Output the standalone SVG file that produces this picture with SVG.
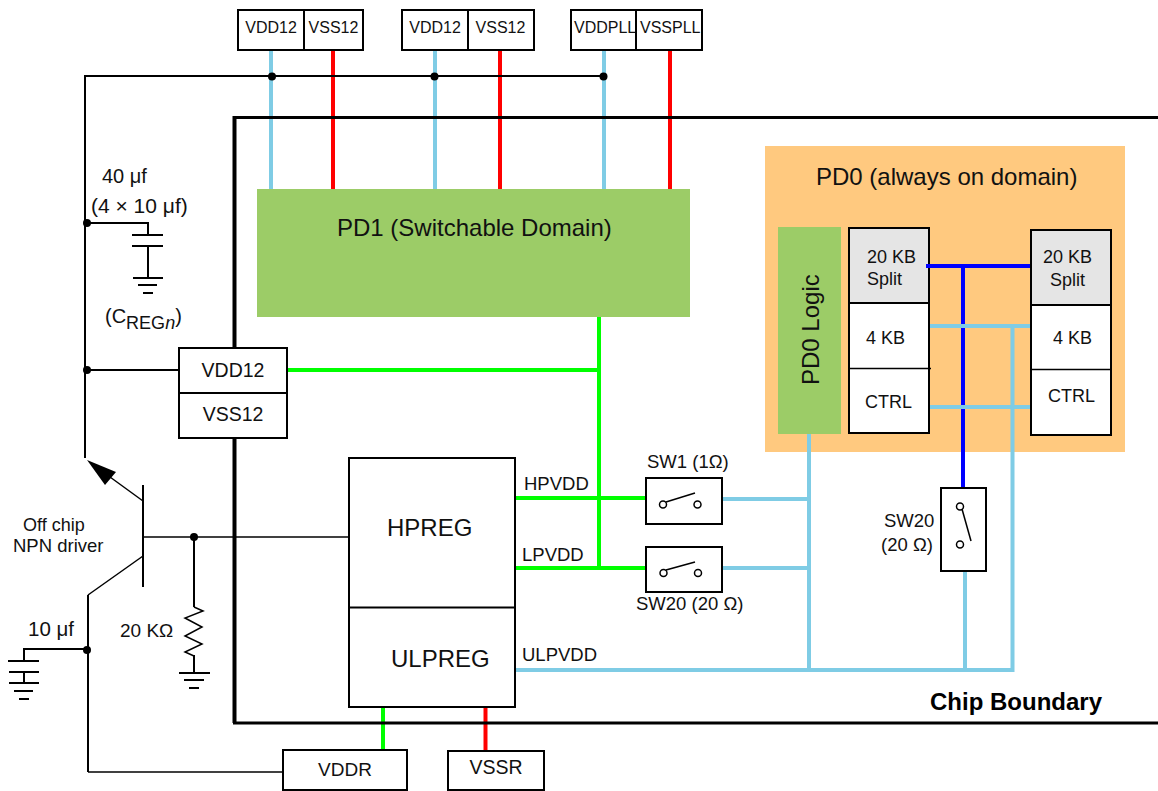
<svg xmlns="http://www.w3.org/2000/svg" width="1158" height="791" viewBox="0 0 1158 791">
<style>
text{font-family:"Liberation Sans",Arial,sans-serif;fill:#111;font-size:18.500px}
.s{font-size:16px}
.m{font-size:18px}
.l{font-size:24px}
.box{fill:#fff;stroke:#000;stroke-width:2}
.grey{fill:#e5e5e5;stroke:none}
.k{fill:none;stroke:#000;stroke-width:2}
.t{fill:none;stroke:#000;stroke-width:1.500}
.b{fill:none;stroke:#000;stroke-width:4}
.h{fill:none;stroke:#000;stroke-width:3}
.lb{fill:none;stroke:#7fcce5;stroke-width:4}
.r{fill:none;stroke:#f00;stroke-width:4}
.g{fill:none;stroke:#0f0;stroke-width:4}
.u{fill:none;stroke:#00f;stroke-width:4}
.d{fill:#000}
.c{fill:#fff;stroke:#000;stroke-width:1.500}
</style>
<g id="pd1"><rect x="257" y="189" width="433" height="128" fill="#9ccc67"/><text x="337" y="236" class="l">PD1 (Switchable Domain)</text></g>
<g id="pd0"><rect x="765" y="146" width="360" height="306" fill="#ffc97f"/><text x="816" y="185" class="l">PD0 (always on domain)</text></g>
<g id="vdd12-a"><rect class="box" x="238" y="10" width="66" height="40"/><text x="271" y="33" class="s" text-anchor="middle">VDD12</text></g>
<g id="vss12-a"><rect class="box" x="304" y="10" width="59" height="40"/><text x="333.500" y="33" class="s" text-anchor="middle">VSS12</text></g>
<g id="vdd12-b"><rect class="box" x="402" y="10" width="66" height="40"/><text x="435" y="33" class="s" text-anchor="middle">VDD12</text></g>
<g id="vss12-b"><rect class="box" x="468" y="10" width="66" height="40"/><text x="500.500" y="33" class="s" text-anchor="middle">VSS12</text></g>
<g id="vddpll"><rect class="box" x="571" y="10" width="65" height="40"/><text x="574" y="33" class="s">VDDPLL</text></g>
<g id="vsspll"><rect class="box" x="636" y="10" width="66" height="40"/><text x="640" y="33" class="s">VSSPLL</text></g>
<g id="pd0-logic"><rect x="778" y="227" width="63" height="207" fill="#9ccc67"/><text transform="translate(819 385) rotate(-90)" style="font-size:24px">PD0 Logic</text></g>
<g id="mem-left">
<rect class="box" x="849" y="228" width="80" height="205"/><rect class="grey" x="850" y="229" width="78" height="74"/>
<path class="k" d="M849 303H929"/><path class="t" d="M849 368.500H931"/>
<text x="867" y="263" class="m">20 KB</text><text x="867" y="285" class="m">Split</text><text x="866" y="344" class="m">4 KB</text><text x="865" y="408" class="m">CTRL</text>
</g>
<g id="mem-right">
<rect class="box" x="1031" y="230" width="80" height="205"/><rect class="grey" x="1032" y="231" width="78" height="74"/>
<path class="k" d="M1031 305H1111"/><path class="t" d="M1031 369.500H1111"/>
<text x="1043" y="263" class="m">20 KB</text><text x="1050" y="286" class="m">Split</text><text x="1053" y="344" class="m">4 KB</text><text x="1048" y="402" class="m">CTRL</text>
</g>
<g id="vdd12-pad"><rect class="box" x="179" y="348" width="108" height="90"/><path class="k" d="M179 393H287"/><text x="233" y="377" text-anchor="middle" style="font-size:19.500px">VDD12</text><text x="233" y="421" text-anchor="middle" style="font-size:19.500px">VSS12</text></g>
<g id="regulator"><rect class="box" x="349" y="458" width="166" height="249"/><path class="k" d="M349 607.500H515"/><text x="387" y="536" class="l">HPREG</text><text x="391" y="667" class="l">ULPREG</text></g>
<g id="sw1"><rect class="box" x="646" y="478" width="76" height="46"/><circle class="c" cx="663" cy="504.500" r="3.500"/><circle class="c" cx="697.500" cy="504.500" r="3.500"/><path class="t" d="M666 502L695 493"/><text x="647" y="468">SW1 (1Ω)</text></g>
<g id="sw20-h"><rect class="box" x="646" y="547" width="76" height="45"/><circle class="c" cx="663.500" cy="573" r="3.500"/><circle class="c" cx="698" cy="573" r="3.500"/><path class="t" d="M666 570L695 562"/><text x="636" y="610">SW20 (20 Ω)</text></g>
<g id="sw20-v"><rect class="box" x="941" y="488" width="45" height="83"/><circle class="c" cx="960" cy="506.500" r="3.500"/><circle class="c" cx="960" cy="544.500" r="3.500"/><path class="t" d="M962 509L971 541"/><text x="884" y="527">SW20</text><text x="881" y="551">(20 Ω)</text></g>
<g id="vddr"><rect class="box" x="283" y="750" width="124" height="40"/><text x="345" y="776" text-anchor="middle" style="font-size:19px">VDDR</text></g>
<g id="vssr"><rect class="box" x="448" y="751" width="96" height="39"/><text x="496" y="774" text-anchor="middle" style="font-size:19.500px">VSSR</text></g>
<g id="connectors">
<path class="u" d="M926 266H1030M963 266V487"/>
<path class="lb" d="M271 51V189M435 51V189M604 51V189"/>
<path class="r" d="M333 51V189M500 51V189M670 51V189"/>
<path class="g" d="M599 317V568M288 370H599M516 498H645M516 568H645M383 708V749"/>
<path class="r" d="M485.500 708V750"/>
<path class="lb" d="M809 434V670M516 670H1012.500V326M723 499H809M723 568H809M965 572V670M930 326H1030M930 407H1030"/>
<path class="k" d="M85 458V76H604"/>
<path class="k" d="M87 223H148V235M132 235H163M132 246H163M148 246V278M133 278H163M138 285H157M143 293H153"/>
<path class="k" d="M87 370H178"/>
<path class="k" d="M143 485V587"/>
<path class="t" d="M143 501L110 477"/>
<path class="d" d="M87 460L116 472L105 485Z"/>
<path class="t" d="M143 537H348"/>
<path class="t" d="M143 556L88 595"/>
<path class="k" d="M194 537V607M179 673H210M184 680H204M189 688H199M194 655V673"/>
<path class="t" d="M194 607L203 611L185 618L202 627L185 636L202 644L185 652L194 656"/>
<path class="k" d="M88 595V772"/>
<path class="t" d="M88 772H282"/>
<path class="k" d="M87 649H24V661M8 661H39M9 672H39M24 672V683M9 683H39M14 691H33M19 699H29"/>
<circle class="d" cx="272" cy="76.500" r="4"/><circle class="d" cx="434.500" cy="76.500" r="4"/><circle class="d" cx="603.500" cy="76.500" r="4"/>
<circle class="d" cx="87" cy="223" r="4"/><circle class="d" cx="87" cy="370" r="4"/>
<circle class="d" cx="194" cy="537" r="4"/><circle class="d" cx="87" cy="650" r="4"/>
</g>
<g id="chip-boundary"><path class="b" d="M234.500 348V116M234.500 438V723"/><path class="h" d="M233 117.500H1158M233 723H1158"/></g>
<g id="labels">
<text x="102" y="183" style="font-size:20px">40 μf</text>
<text x="91" y="213" style="font-size:21px">(4 × 10 μf)</text>
<text x="105" y="323" style="font-size:20px">(C<tspan dy="6" style="font-size:18px">REG<tspan font-style="italic">n</tspan></tspan><tspan dy="-6">)</tspan></text>
<text x="23" y="531" style="font-size:18px">Off chip</text><text x="13" y="552">NPN driver</text>
<text x="120" y="637" style="font-size:19px">20 KΩ</text>
<text x="28" y="636" style="font-size:20.500px">10 μf</text>
<text x="524" y="490">HPVDD</text><text x="522" y="561">LPVDD</text><text x="522" y="661">ULPVDD</text>
<text x="930" y="710" style="font-size:24px;font-weight:bold;fill:#000">Chip Boundary</text>
</g>
</svg>
